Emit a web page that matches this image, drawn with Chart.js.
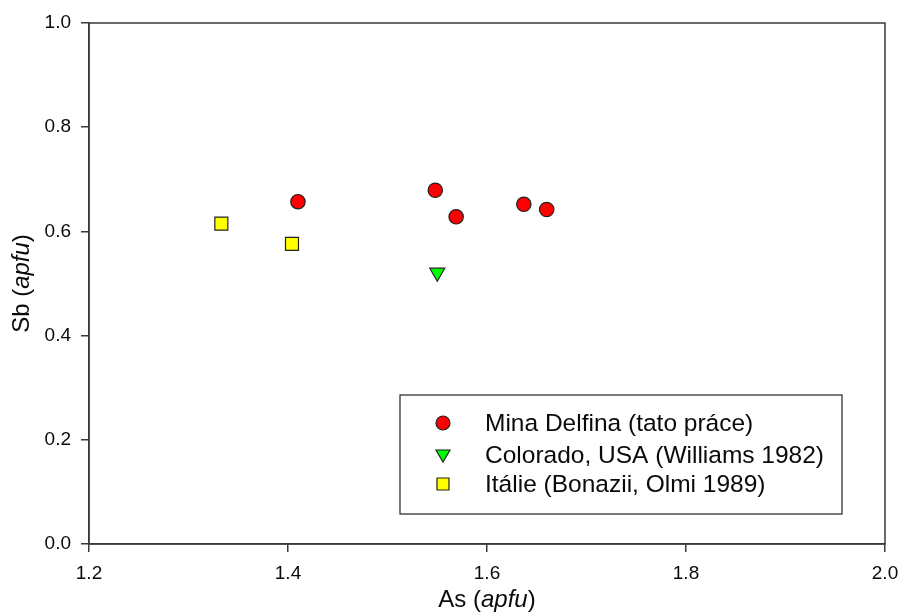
<!DOCTYPE html>
<html>
<head>
<meta charset="utf-8">
<script src="https://cdn.jsdelivr.net/npm/chart.js@4"></script>
<style>
html,body{margin:0;padding:0;background:#fff;}
#wrap{width:901px;height:613px;position:relative;}
</style>
</head>
<body>
<div id="wrap"><canvas id="c" width="901" height="613"></canvas></div>
<script>
const xTicks = [1.2, 1.4, 1.6, 1.8, 2.0];
const yTicks = [0.0, 0.2, 0.4, 0.6, 0.8, 1.0];

const minaX = [1.410, 1.548, 1.569, 1.637, 1.660];
const minaY = [0.657, 0.679, 0.628, 0.652, 0.642];

const coloradoX = [1.550];
const coloradoY = [0.521];

const italieX = [1.333, 1.404];
const italieY = [0.615, 0.576];

const seriesNames = ['Mina Delfina (tato práce)', 'Colorado, USA (Williams 1982)', 'Itálie (Bonazii, Olmi 1989)'];
const xTitle = ['As (', 'apfu', ')'];
const yTitle = ['Sb (', 'apfu', ')'];

const pts = (xs, ys) => xs.map((x, i) => ({x: x, y: ys[i]}));
const FONT = '"Liberation Sans", Arial, sans-serif';
const AX = '#3a3a3a';
const TXT = '#0a0a0a';

const datasets = [
  {label: seriesNames[0], data: pts(minaX, minaY), pointStyle: 'circle', pointRadius: 7.2,
   backgroundColor: '#ff0000', borderColor: '#222', borderWidth: 1.2},
  {label: seriesNames[1], data: pts(coloradoX, coloradoY), pointStyle: 'triangle', pointRadius: 8.7, rotation: 180,
   backgroundColor: '#00ff00', borderColor: '#222', borderWidth: 1.2},
  {label: seriesNames[2], data: pts(italieX, italieY), pointStyle: 'rect', pointRadius: 9.2,
   backgroundColor: '#ffff00', borderColor: '#222', borderWidth: 1.2}
];

function drawMixed(ctx, parts, size) {
  const fonts = [size + 'px ' + FONT, 'italic ' + size + 'px ' + FONT, size + 'px ' + FONT];
  let total = 0;
  const widths = parts.map((p, i) => { ctx.font = fonts[i]; const w = ctx.measureText(p).width; total += w; return w; });
  let x = -total / 2;
  parts.forEach((p, i) => { ctx.font = fonts[i]; ctx.fillText(p, x, 0); x += widths[i]; });
}

const framePlugin = {
  id: 'frame',
  afterDraw(chart) {
    const {ctx, chartArea: a} = chart;
    ctx.save();
    ctx.strokeStyle = AX;
    ctx.lineWidth = 1.5;
    ctx.strokeRect(a.left, a.top, a.right - a.left, a.bottom - a.top);

    // axis titles (mixed upright / italic)
    ctx.fillStyle = TXT;
    ctx.textAlign = 'left';
    ctx.textBaseline = 'alphabetic';
    ctx.save();
    ctx.translate((a.left + a.right) / 2, 607);
    drawMixed(ctx, xTitle, 24);
    ctx.restore();
    ctx.save();
    ctx.translate(29, (a.top + a.bottom) / 2);
    ctx.rotate(-Math.PI / 2);
    drawMixed(ctx, yTitle, 24);
    ctx.restore();

    // legend box
    const bx = 400, by = 395, bw = 442, bh = 119;
    ctx.fillStyle = '#fff';
    ctx.fillRect(bx, by, bw, bh);
    ctx.strokeStyle = '#222';
    ctx.lineWidth = 1.2;
    ctx.strokeRect(bx, by, bw, bh);
    const rows = [423, 455, 484];
    const mx = 443;
    ctx.font = '24.5px ' + FONT;
    ctx.textBaseline = 'middle';
    ctx.textAlign = 'left';
    datasets.forEach((ds, i) => {
      const y = rows[i];
      ctx.save();
      ctx.fillStyle = ds.backgroundColor;
      ctx.strokeStyle = '#222';
      ctx.lineWidth = 1.2;
      ctx.beginPath();
      if (ds.pointStyle === 'circle') {
        ctx.arc(mx, y, 7, 0, Math.PI * 2);
      } else if (ds.pointStyle === 'triangle') {
        ctx.moveTo(mx - 7, y - 5);
        ctx.lineTo(mx + 7, y - 5);
        ctx.lineTo(mx, y + 7);
        ctx.closePath();
      } else {
        ctx.rect(mx - 6, y - 6, 12, 12);
      }
      ctx.fill();
      ctx.stroke();
      ctx.restore();
      ctx.fillStyle = TXT;
      ctx.fillText(seriesNames[i], 485, y + 1);
    });
    ctx.restore();
  }
};

new Chart(document.getElementById('c'), {
  type: 'scatter',
  data: {datasets: datasets},
  plugins: [framePlugin],
  options: {
    responsive: false,
    animation: false,
    layout: {padding: {top: 23, right: 16, left: 0, bottom: 0}},
    plugins: {legend: {display: false}, tooltip: {enabled: false}},
    scales: {
      x: {
        type: 'linear', min: 1.2, max: 2.0,
        afterBuildTicks(s) { s.ticks = xTicks.map(v => ({value: v})); },
        afterFit(s) { s.height = 69; s.paddingLeft = 0; s.paddingRight = 0; },
        ticks: {callback: v => v.toFixed(1), color: TXT, font: {family: FONT, size: 19}, padding: 10},
        grid: {drawOnChartArea: false, drawTicks: true, tickLength: 8, color: AX, lineWidth: 1.5},
        border: {display: true, color: AX, width: 1.5},
        title: {display: false}
      },
      y: {
        type: 'linear', min: 0, max: 1.0,
        afterBuildTicks(s) { s.ticks = yTicks.map(v => ({value: v})); },
        afterFit(s) { s.width = 89; s.paddingTop = 0; s.paddingBottom = 0; },
        ticks: {callback: v => v.toFixed(1), color: TXT, font: {family: FONT, size: 19}, padding: 10},
        grid: {drawOnChartArea: false, drawTicks: true, tickLength: 8, color: AX, lineWidth: 1.5},
        border: {display: true, color: AX, width: 1.5},
        title: {display: false}
      }
    }
  }
});
</script>
</body>
</html>
